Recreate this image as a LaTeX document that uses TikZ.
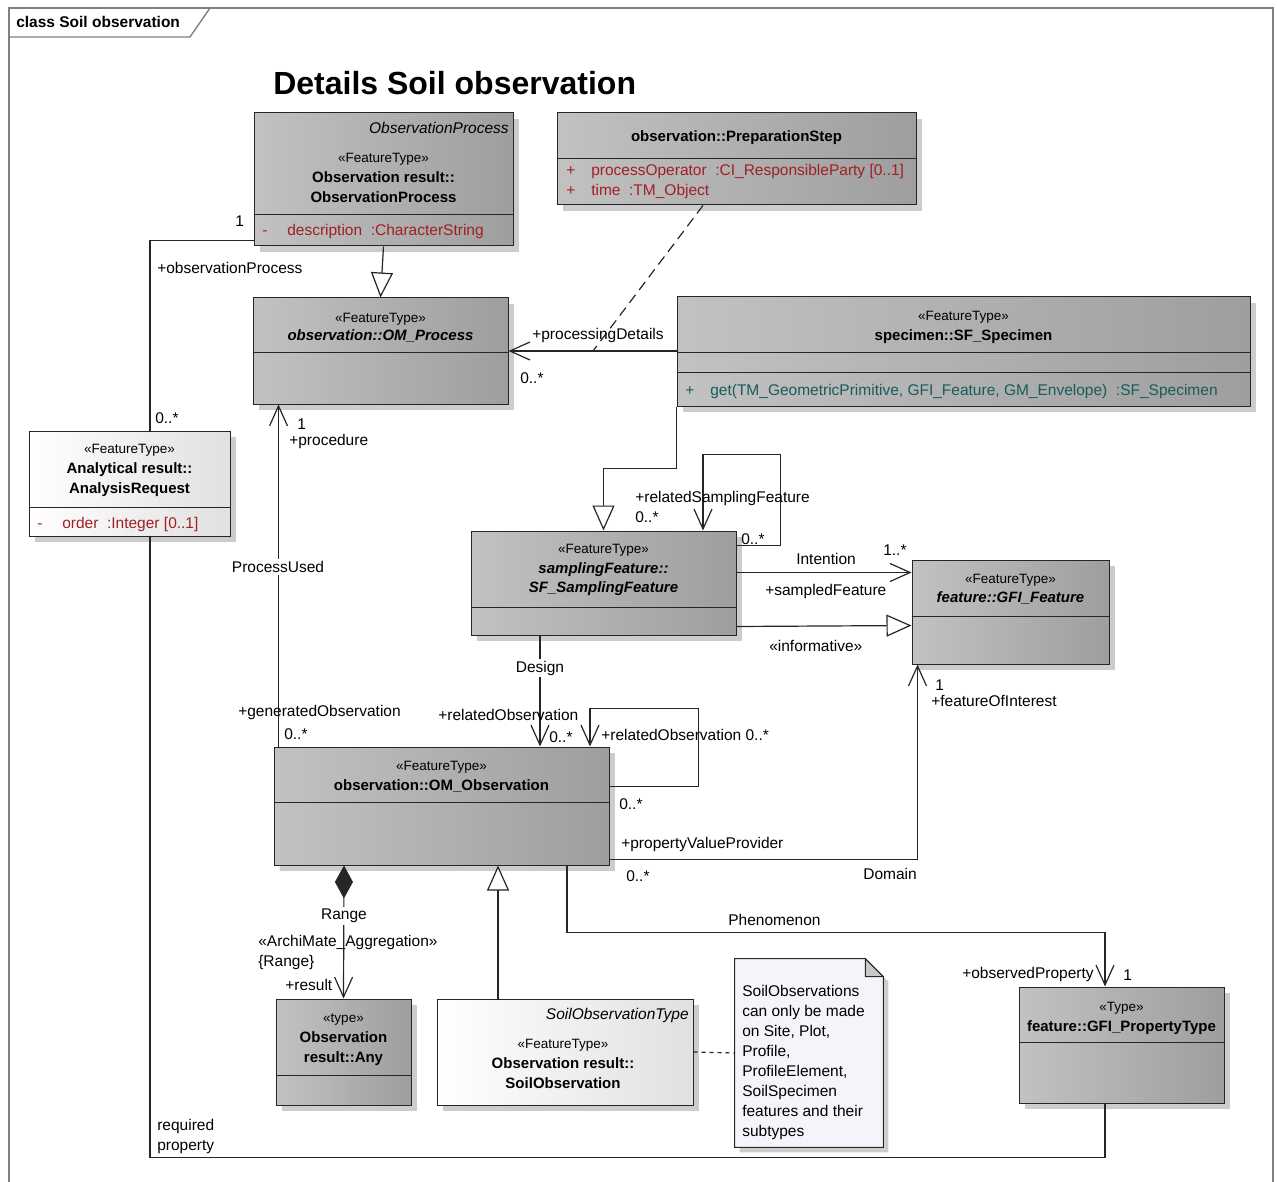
\documentclass[tikz,border=0pt]{standalone}
\usepackage{fontspec}
\setmainfont{Liberation Sans}
\usetikzlibrary{arrows.meta, shadows}

\definecolor{atributo}{RGB}{160,32,36}
\definecolor{operacion}{RGB}{24,92,92}
\definecolor{notafondo}{RGB}{245,244,250}
\newcommand{\estereo}[1]{{\fontsize{13.5}{20}\selectfont\mdseries\upshape #1}}
\newcommand{\vis}[1]{\makebox[25pt][l]{#1}}

\begin{document}
\begin{tikzpicture}[x=1pt, y=-1pt, semithick, >={Straight Barb[length=20pt, width=18pt]},
  clase/.style={draw=black!85, line width=1pt, inner sep=0pt, left color=black!24, right color=black!38,
    drop shadow={shadow xshift=6pt, shadow yshift=-6pt, fill=black!20, opacity=1}},
  claseblanca/.style={clase, left color=white, right color=black!12},
  sep/.style={draw=black!85, line width=1pt},
  cab/.style={align=center, inner sep=0pt, font=\fontsize{15}{20}\selectfont\bfseries},
  attr/.style={anchor=west, align=left, inner sep=0pt, text=atributo, font=\fontsize{15.5}{20}\selectfont},
  rol/.style={anchor=west, inner sep=0pt, font=\fontsize{15.5}{18}\selectfont},
  corte/.style={rol, anchor=center, fill=white, inner sep=2pt},
  marco/.style={draw=black!50, line width=1.4pt},
  asoc/.style={draw=black!85, line width=1.2pt},
  nav/.style={asoc, ->},
  gen/.style={asoc, -{Triangle[open, length=25pt, width=22pt, fill=white]}},
  comp/.style={asoc, {Diamond[length=33pt, width=18pt]}->},
]
  \useasboundingbox (0,0) rectangle (1277,1182);

  % Marco
  \draw[marco] (9,1182) -- (9,8) -- (1273,8) -- (1273,1182);
  \draw[marco] (9,37) -- (190,37) -- (210,8);
  \node[rol, font=\fontsize{15.5}{18}\selectfont\bfseries] (marco-t) at (16,22) {class Soil observation};
  \node[rol, font=\fontsize{32}{36}\selectfont\bfseries] (titulo) at (273,83) {Details Soil observation};

  % Clases
  \node[clase, minimum width=259, minimum height=133] (obsproc) at (383.5,179.5) {};
  \draw[sep] ([yshift=32pt]obsproc.south west) -- ([yshift=32pt]obsproc.south east);
  \node[rol, anchor=east, font=\fontsize{15.5}{18}\selectfont\itshape] (obsproc-tag) at (509,128) {ObservationProcess};
  \node[cab] (obsproc-t) at (383.5,178) {\estereo{«FeatureType»}\\Observation result::\\ObservationProcess};
  \node[attr] (obsproc-a) at (262,231) {\vis{-}description\ \ :CharacterString};

  \node[clase, minimum width=359, minimum height=92] (prep) at (736.5,159) {};
  \draw[sep] ([yshift=47pt]prep.south west) -- ([yshift=47pt]prep.south east);
  \node[cab] (prep-t) at (736.5,138) {observation::PreparationStep};
  \node[attr] (prep-a) at (566,181) {\vis{+}processOperator\ \ :CI\_ResponsibleParty [0..1]\\\vis{+}time\ \ :TM\_Object};

  \node[clase, minimum width=255, minimum height=106] (omp) at (380.5,351) {};
  \draw[sep] ([yshift=-55pt]omp.north west) -- ([yshift=-55pt]omp.north east);
  \node[cab, font=\fontsize{15}{18}\selectfont\bfseries\itshape] (omp-t) at (380.5,328) {\estereo{«FeatureType»}\\observation::OM\_Process};

  \node[clase, minimum width=573, minimum height=109] (spec) at (963.5,351.5) {};
  \draw[sep] ([yshift=-56pt]spec.north west) -- ([yshift=-56pt]spec.north east);
  \draw[sep] ([yshift=-76pt]spec.north west) -- ([yshift=-76pt]spec.north east);
  \node[cab] (spec-t) at (963.5,327) {\estereo{«FeatureType»}\\specimen::SF\_Specimen};
  \node[attr, text=operacion] (spec-o) at (685,391) {\vis{+}get(TM\_GeometricPrimitive, GFI\_Feature, GM\_Envelope)\ \ :SF\_Specimen};

  \node[claseblanca, minimum width=201, minimum height=105] (anreq) at (129.5,483.5) {};
  \draw[sep] ([yshift=29pt]anreq.south west) -- ([yshift=29pt]anreq.south east);
  \node[cab] (anreq-t) at (129.5,470) {\estereo{«FeatureType»}\\Analytical result::\\AnalysisRequest};
  \node[attr] (anreq-a) at (37,524) {\vis{-}order\ \ :Integer [0..1]};

  \node[clase, minimum width=265, minimum height=104] (sampfeat) at (603.5,583) {};
  \draw[sep] ([yshift=28pt]sampfeat.south west) -- ([yshift=28pt]sampfeat.south east);
  \node[cab, font=\fontsize{15}{19.5}\selectfont\bfseries\itshape] (sampfeat-t) at (603.5,570) {\estereo{«FeatureType»}\\samplingFeature::\\SF\_SamplingFeature};

  \node[clase, minimum width=197, minimum height=104] (feat) at (1010.5,612) {};
  \draw[sep] ([yshift=-57pt]feat.north west) -- ([yshift=-57pt]feat.north east);
  \node[cab, font=\fontsize{15}{19}\selectfont\bfseries\itshape] (feat-t) at (1010.5,589.5) {\estereo{«FeatureType»}\\feature::GFI\_Feature};

  \node[clase, minimum width=335, minimum height=118] (obs) at (441.5,806) {};
  \draw[sep] ([yshift=-56pt]obs.north west) -- ([yshift=-56pt]obs.north east);
  \node[cab] (obs-t) at (441.5,777) {\estereo{«FeatureType»}\\observation::OM\_Observation};

  \node[clase, minimum width=135, minimum height=106] (any) at (343.5,1052) {};
  \draw[sep] ([yshift=30pt]any.south west) -- ([yshift=30pt]any.south east);
  \node[cab] (any-t) at (343.5,1040) {\estereo{«type»}\\Observation\\result::Any};

  \node[claseblanca, minimum width=256, minimum height=106] (soilobs) at (565,1052) {};
  \node[rol, anchor=east, font=\fontsize{15.5}{18}\selectfont\itshape] (soilobs-tag) at (689,1015) {SoilObservationType};
  \node[cab] (soilobs-t) at (563,1064) {\estereo{«FeatureType»}\\Observation result::\\SoilObservation};

  \node[clase, minimum width=205, minimum height=116] (proptype) at (1121.5,1045) {};
  \draw[sep] ([yshift=-56pt]proptype.north west) -- ([yshift=-56pt]proptype.north east);
  \node[cab] (proptype-t) at (1121.5,1018) {\estereo{«Type»}\\feature::GFI\_PropertyType};

  % Nota
  \node[minimum width=148, minimum height=188, inner sep=0pt] (nota) at (809,1053) {};
  \filldraw[draw=black!85, line width=1pt, fill=notafondo,
    drop shadow={shadow xshift=5pt, shadow yshift=-5pt, fill=black!20, opacity=1}]
    (nota.south west) -- (nota.north west) -- ([xshift=-18pt]nota.north east)
    -- ([yshift=-18pt]nota.north east) -- (nota.south east) -- cycle;
  \filldraw[draw=black!85, line width=1pt, fill=black!22] ([xshift=-18pt]nota.north east)
    -- ([xshift=-18pt, yshift=-18pt]nota.north east) -- ([yshift=-18pt]nota.north east) -- cycle;
  \node[rol, align=left, font=\fontsize{15.5}{20}\selectfont] (nota-t) at (742,1062)
    {SoilObservations\\can only be made\\on Site, Plot,\\Profile,\\ProfileElement,\\SoilSpecimen\\features and their\\subtypes};

  % Relaciones
  \draw[gen] (obsproc.south) -- (omp.north);
  \draw[asoc] ([yshift=6pt]obsproc.south west) -| ([xshift=20.5pt]anreq.north);
  \draw[asoc] ([xshift=20.5pt]anreq.south) -- ++(0,621) -| ([xshift=-16.5pt]proptype.south);
  \draw[nav] (spec.west |- omp.east) -- coordinate[pos=0.497] (pd) (omp.east);
  \draw[asoc, dash pattern=on 10pt off 6pt] ([xshift=-33.5pt]prep.south) -- (pd);
  \draw[gen] (spec.south west) -- ++(0,62) -| (sampfeat.north);
  \draw[nav] ([yshift=-15pt]sampfeat.north east) -- ++(44,0) -- ++(0,-91) -| ([xshift=99.5pt]sampfeat.north);
  \draw[nav] ([yshift=-42pt]sampfeat.north east) -- ([yshift=-13pt]feat.north west);
  \draw[gen] ([yshift=9pt]sampfeat.south east) -- ([yshift=-66pt]feat.north west);
  \draw[nav] ([xshift=-63.5pt]sampfeat.south) -- ([xshift=98.5pt]obs.north);
  \draw[nav] ([yshift=-40pt]obs.north east) -- ++(89,0) -- ++(0,-78) -| ([xshift=148.5pt]obs.north);
  \draw[nav] ([xshift=5pt]obs.north west) -- ([xshift=26pt]omp.south west);
  \draw[nav] ([yshift=6pt]obs.south east) -| ([xshift=6pt]feat.south west);
  \draw[nav] ([xshift=125.5pt]obs.south) -- ++(0,67) -| ([xshift=-16.5pt]proptype.north);
  \draw[comp] ([xshift=-97.5pt]obs.south) -- (any.north);
  \draw[gen] ([xshift=-67pt]soilobs.north) -- ([xshift=56.5pt]obs.south);
  \draw[asoc, dash pattern=on 4pt off 4pt] (soilobs.east) -- (nota.west);

  % Etiquetas
  \node[rol] (l-op-1) at (235,221) {1};
  \node[rol] (l-op-rol) at (157,268) {+observationProcess};
  \node[rol] (l-ar-m) at (155,418) {0..*};
  \node[rol, align=left, font=\fontsize{15.5}{20}\selectfont] (l-req) at (157,1136) {required\\property};
  \node[rol] (l-pd) at (532,335) {+processingDetails};
  \node[rol] (l-pd-m) at (520,378) {0..*};
  \node[rol] (l-proc-1) at (297,424) {1};
  \node[rol] (l-proc) at (289,441) {+procedure};
  \node[corte] (l-pu) at (278,567) {ProcessUsed};
  \node[rol] (l-gen) at (238,712) {+generatedObservation};
  \node[rol] (l-gen-m) at (284,734) {0..*};
  \node[rol] (l-rsf) at (635,498) {+relatedSamplingFeature};
  \node[rol] (l-rsf-m) at (635,517) {0..*};
  \node[rol] (l-rsf-m2) at (741,539) {0..*};
  \node[rol] (l-int) at (796,559) {Intention};
  \node[rol] (l-int-m) at (883,550) {1..*};
  \node[rol] (l-sf) at (765,591) {+sampledFeature};
  \node[rol] (l-inf) at (769,646) {«informative»};
  \node[corte] (l-des) at (540,668) {Design};
  \node[rol] (l-ro) at (438,715) {+relatedObservation};
  \node[rol] (l-ro-m) at (549,737) {0..*};
  \node[rol] (l-ro2) at (601,735) {+relatedObservation 0..*};
  \node[rol] (l-ro2-m) at (619,804) {0..*};
  \node[rol] (l-pvp) at (621,844) {+propertyValueProvider};
  \node[rol] (l-pvp-m) at (626,876) {0..*};
  \node[rol] (l-dom) at (863,874) {Domain};
  \node[rol] (l-foi-1) at (935,685) {1};
  \node[rol] (l-foi) at (931,701) {+featureOfInterest};
  \node[rol] (l-phen) at (728,920) {Phenomenon};
  \node[rol] (l-obp) at (962,974) {+observedProperty};
  \node[rol] (l-obp-1) at (1123,975) {1};
  \node[corte] (l-rng) at (344,916) {Range};
  \node[rol] (l-agg) at (258,942) {«ArchiMate\_Aggregation»};
  \node[rol] (l-rng2) at (258,962) {\{Range\}};
  \node[rol] (l-res) at (285,985) {+result};
\end{tikzpicture}
\end{document}
